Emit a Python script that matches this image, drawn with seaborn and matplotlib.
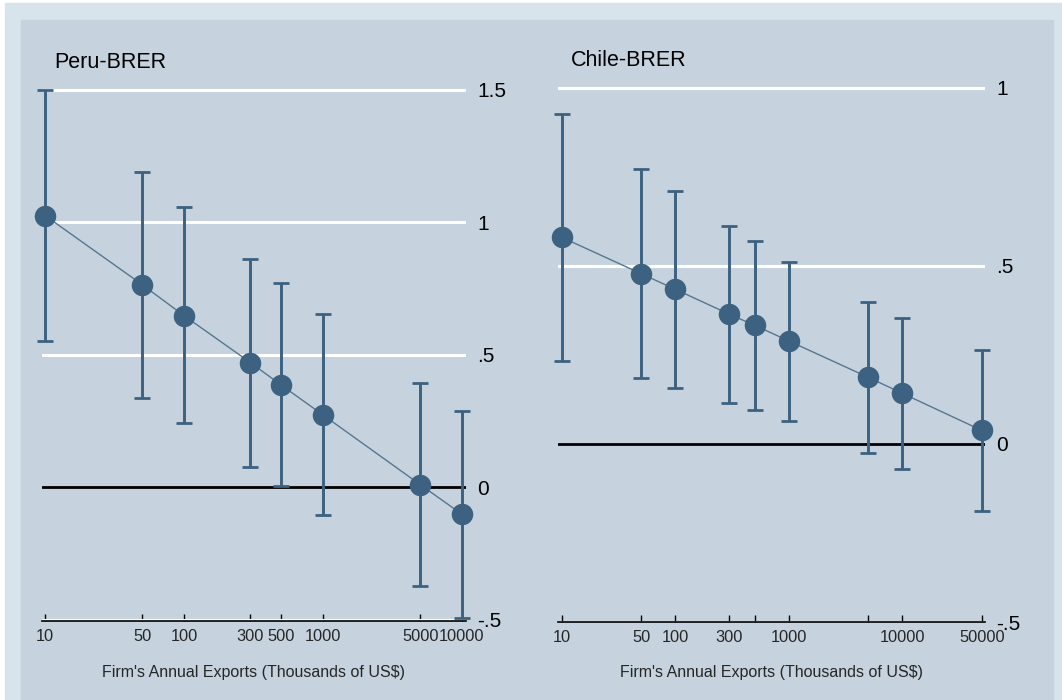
import numpy as np
import pandas as pd
import matplotlib
matplotlib.use("Agg")
import matplotlib.pyplot as plt
from matplotlib.patches import Rectangle
import seaborn as sns

# Firm export size bins (thousands of US$) and estimated BRER coefficients
peru_exports = [10, 50, 100, 300, 500, 1000, 5000, 10000]
peru_coef = [1.026, 0.765, 0.648, 0.471, 0.386, 0.273, 0.010, -0.102]
peru_lo = [0.553, 0.336, 0.241, 0.077, 0.003, -0.105, -0.372, -0.492]
peru_hi = [1.500, 1.190, 1.058, 0.861, 0.770, 0.654, 0.394, 0.287]

chile_exports = [10, 50, 100, 300, 500, 1000, 5000, 10000, 50000]
chile_coef = [0.580, 0.478, 0.434, 0.364, 0.333, 0.289, 0.187, 0.142, 0.038]
chile_lo = [0.233, 0.184, 0.158, 0.116, 0.094, 0.063, -0.025, -0.070, -0.189]
chile_hi = [0.925, 0.773, 0.710, 0.612, 0.570, 0.512, 0.397, 0.354, 0.263]

peru_xticks = [10, 50, 100, 300, 500, 1000, 5000, 10000]
peru_xlabels = ["10", "50", "100", "300", "500", "1000", "5000", "10000"]
chile_xticks = [10, 50, 100, 300, 500, 1000, 5000, 10000, 50000]
chile_xlabels = ["10", "50", "100", "300", "", "1000", "", "10000", "50000"]

peru_yticks = [-0.5, 0, 0.5, 1, 1.5]
peru_ylabels = ["-.5", "0", ".5", "1", "1.5"]
chile_yticks = [-0.5, 0, 0.5, 1]
chile_ylabels = ["-.5", "0", ".5", "1"]

x_title = "Firm's Annual Exports (Thousands of US$)"

sns.set_style("white")
plt.rcParams["font.family"] = ["Liberation Sans", "DejaVu Sans"]

W, H = 1062, 700
fig = plt.figure(figsize=(W / 100, H / 100), dpi=100, facecolor="white")

OUTER = "#d8e4eb"
INNER = "#c6d3de"
MARK = "#3d6180"
LINE = "#56768f"

fig.patches.append(Rectangle((5 / W, 0), (W - 5) / W, (H - 3) / H,
                             transform=fig.transFigure, color=OUTER, zorder=-3))
fig.patches.append(Rectangle((21 / W, 0), (1053 - 21) / W, (H - 20) / H,
                             transform=fig.transFigure, color=INNER, zorder=-2))


def px_axes(x0, y0, x1, y1):
    return fig.add_axes([x0 / W, 1 - y1 / H, (x1 - x0) / W, (y1 - y0) / H])


def draw_panel(ax, xs, coef, lo, hi, xticks, xlabels, yticks, ylabels,
               xlim, ylim, title, title_xy):
    ax.set_facecolor("none")
    ax.set_xscale("log")
    df = pd.DataFrame({"x": xs, "b": coef, "lo": lo, "hi": hi})

    # grid lines and zero reference
    for yv in yticks:
        if yv == 0:
            ax.axhline(0, color="black", lw=2.0, zorder=1)
        else:
            ax.axhline(yv, color="white", lw=2.2, zorder=1)

    # confidence intervals
    eb = ax.errorbar(df["x"], df["b"],
                     yerr=[df["b"] - df["lo"], df["hi"] - df["b"]],
                     fmt="none", ecolor=MARK, elinewidth=2.1, capsize=5.5,
                     capthick=2.0, zorder=3)
    for art in eb.get_children():
        art.set_clip_on(False)
    sns.lineplot(data=df, x="x", y="b", ax=ax, color=LINE, lw=1.0,
                 zorder=4, legend=False)
    sns.scatterplot(data=df, x="x", y="b", ax=ax, color=MARK, s=240,
                    edgecolor=MARK, linewidth=0, zorder=5, legend=False,
                    clip_on=False)

    ax.set_xlim(*xlim)
    ax.set_ylim(*ylim)
    ax.set_xticks(xticks)
    ax.set_xticklabels(xlabels)
    ax.xaxis.set_minor_locator(matplotlib.ticker.NullLocator())
    ax.tick_params(axis="x", direction="in", length=5, width=1,
                   color="black", labelsize=11.8, pad=6, bottom=True)
    ax.yaxis.tick_right()
    ax.set_yticks(yticks)
    ax.set_yticklabels(ylabels)
    ax.tick_params(axis="y", length=0, labelsize=15, pad=8,
                   labelcolor="black")
    for s in ["top", "left", "right"]:
        ax.spines[s].set_visible(False)
    ax.spines["bottom"].set_color("black")
    ax.spines["bottom"].set_linewidth(1.2)
    ax.spines["bottom"].set_zorder(2)
    ax.set_xlabel("")
    ax.set_ylabel("")
    fig.text(title_xy[0] / W, 1 - title_xy[1] / H, title, fontsize=15.5,
             ha="left", va="center", color="black")


ax1 = px_axes(42, 70, 466, 621)
draw_panel(ax1, peru_exports, peru_coef, peru_lo, peru_hi,
           peru_xticks, peru_xlabels, peru_yticks, peru_ylabels,
           (10 ** 0.9784, 10 ** 4.0288), (-0.505, 1.5 + 20 / 265),
           "Peru-BRER", (54, 62))

ax2 = px_axes(558, 70, 985, 622)
draw_panel(ax2, chile_exports, chile_coef, chile_lo, chile_hi,
           chile_xticks, chile_xlabels, chile_yticks, chile_ylabels,
           (10 ** 0.967, 10 ** 4.728), (-0.5, 1 + 17.7 / 356),
           "Chile-BRER", (571, 61))

fig.text(253 / W, 1 - 673 / H, x_title, fontsize=11.5, ha="center", va="center")
fig.text(771 / W, 1 - 673 / H, x_title, fontsize=11.5, ha="center", va="center")

fig.savefig("out.png", dpi=100, facecolor=fig.get_facecolor())
